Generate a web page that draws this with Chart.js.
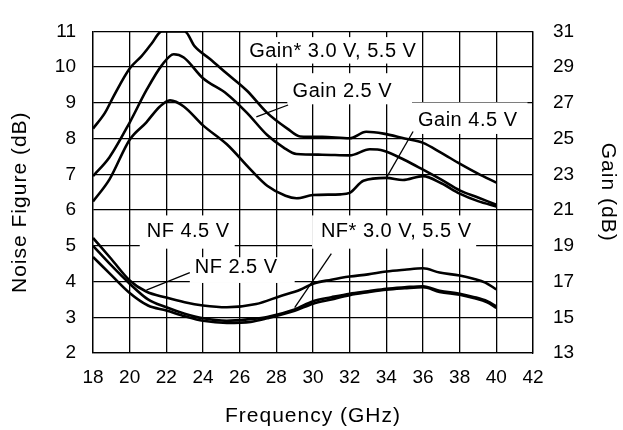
<!DOCTYPE html>
<html>
<head>
<meta charset="utf-8">
<script src="https://cdn.jsdelivr.net/npm/chart.js@4"></script>
<style>
  html, body { margin: 0; padding: 0; background: #fff; }
  #wrap { width: 623px; height: 430px; }
</style>
</head>
<body>
<div id="wrap"><canvas id="chart"></canvas></div>
<script>
// tick labels
const freqTicks = [18, 20, 22, 24, 26, 28, 30, 32, 34, 36, 38, 40, 42];
const nfTicks = [2, 3, 4, 5, 6, 7, 8, 9, 10, 11];
const gainTicks = [13, 15, 17, 19, 21, 23, 25, 27, 29, 31];

// Gain curves (dB, right axis)
const gainStarFreq = [18, 18.65, 19.1, 20, 20.65, 21.2, 21.75, 23, 23.55, 24.4, 25.3, 26.4, 27.5, 28.6, 29.3, 30.5, 32, 32.9, 33.85, 35, 36, 37, 38, 39, 40];
const gainStar     = [25.56, 26.44, 27.32, 28.92, 29.62, 30.32, 31, 31, 30.16, 29.44, 28.64, 27.68, 26.44, 25.56, 25.12, 25.1, 25.02, 25.38, 25.28, 25.0, 24.76, 24.2, 23.6, 23.04, 22.54];

const gain25Freq = [18, 18.9, 20, 20.9, 21.75, 22.4, 22.95, 24, 25.3, 26.4, 27.5, 28.4, 29.1, 30.5, 32, 33.1, 33.85, 35, 36, 37, 38, 39, 40];
const gain25     = [22.9, 23.96, 25.9, 27.68, 29.1, 29.72, 29.54, 28.38, 27.5, 26.44, 25.2, 24.5, 24.14, 24.1, 24.06, 24.4, 24.32, 23.8, 23.26, 22.7, 22.1, 21.7, 21.3];

const gain45Freq = [18, 18.9, 20, 20.9, 21.65, 22.2, 22.95, 24, 25.3, 26.6, 27.5, 28.5, 29.1, 30, 31.5, 32, 32.75, 34, 34.9, 36, 37, 38, 39, 40];
const gain45     = [21.48, 22.72, 24.94, 25.9, 26.8, 27.14, 26.8, 25.74, 24.68, 23.26, 22.36, 21.8, 21.66, 21.84, 21.88, 21.96, 22.64, 22.8, 22.68, 22.9, 22.5, 21.92, 21.5, 21.2];

// Noise figure curves (dB, left axis)
const nfFreq = [18, 19, 20, 20.9, 22, 23, 24, 25.3, 26.9, 28.2, 29.3, 30, 31, 32, 33, 34, 35, 36, 36.9, 38, 38.75, 39.4, 40];
const nf45   = [5.22, 4.63, 4.03, 3.72, 3.55, 3.42, 3.33, 3.28, 3.37, 3.59, 3.77, 3.94, 4.05, 4.14, 4.2, 4.28, 4.33, 4.37, 4.25, 4.17, 4.08, 3.97, 3.78];

const nfLowFreq = [18, 19, 20, 21, 22, 23, 24, 25.3, 26.6, 27.5, 29, 30, 31, 32, 33, 34, 35, 36, 36.9, 38, 38.75, 39.5, 40];
const nf25      = [5.0, 4.45, 3.94, 3.5, 3.28, 3.1, 2.97, 2.9, 2.95, 3.01, 3.22, 3.45, 3.56, 3.66, 3.73, 3.8, 3.84, 3.87, 3.74, 3.66, 3.57, 3.45, 3.3];
const nfStar    = [4.69, 4.18, 3.68, 3.33, 3.19, 3.03, 2.9, 2.84, 2.87, 2.97, 3.18, 3.38, 3.5, 3.62, 3.7, 3.77, 3.81, 3.84, 3.71, 3.63, 3.54, 3.42, 3.26];

function pts(xs, ys) { return xs.map((x, i) => ({x: x, y: ys[i]})); }

function curve(label, xs, ys, axis) {
  return {
    label: label,
    data: pts(xs, ys),
    yAxisID: axis,
    borderColor: '#000',
    borderWidth: 2.6,
    pointRadius: 0,
    fill: false,
    cubicInterpolationMode: 'monotone'
  };
}

// label boxes, text and leader lines, in (GHz, NF dB) units
const notes = [
  {text: 'Gain* 3.0 V, 5.5 V', box: [26.2, 35.8, 10.84, 10.1], at: [31.08, 10.44]},
  {text: 'Gain 2.5 V', box: [28.6, 35.4, 9.83, 8.96], at: [31.6, 9.31], lead: [[28.64, 8.94], [26.91, 8.61]]},
  {text: 'Gain 4.5 V', box: [35.4, 41.7, 9.01, 8.13], at: [38.44, 8.52], lead: [[35.46, 8.2], [34.0, 6.9]]},
  {text: 'NF 4.5 V', box: [20.55, 25.73, 5.85, 4.92], at: [23.19, 5.39]},
  {text: 'NF 2.5 V', box: [23.28, 29.0, 4.68, 3.96], at: [25.81, 4.4], lead: [[23.28, 4.25], [20.91, 3.76]]},
  {text: 'NF* 3.0 V, 5.5 V', box: [29.95, 38.9, 5.85, 4.92], at: [34.54, 5.39], lead: [[31.0, 4.78], [29.0, 3.27]]}
];

const FONT = '"Liberation Sans", Arial, Helvetica, sans-serif';

const notePlugin = {
  id: 'notes',
  beforeDatasetsDraw(chart) {
    const ctx = chart.ctx, sx = chart.scales.x, sy = chart.scales.y;
    ctx.save();
    ctx.fillStyle = '#fff';
    notes.forEach(n => {
      const x1 = sx.getPixelForValue(n.box[0]), x2 = sx.getPixelForValue(n.box[1]);
      const y1 = sy.getPixelForValue(n.box[2]), y2 = sy.getPixelForValue(n.box[3]);
      ctx.fillRect(x1, y1, x2 - x1, y2 - y1);
    });
    ctx.restore();
  },
  afterDatasetsDraw(chart) {
    const ctx = chart.ctx, sx = chart.scales.x, sy = chart.scales.y;
    ctx.save();
    ctx.fillStyle = '#000';
    ctx.strokeStyle = '#000';
    ctx.lineWidth = 1.3;
    ctx.font = '20px ' + FONT;
    ctx.letterSpacing = '0.5px';
    ctx.textAlign = 'center';
    ctx.textBaseline = 'middle';
    notes.forEach(n => {
      ctx.fillText(n.text, sx.getPixelForValue(n.at[0]), sy.getPixelForValue(n.at[1]));
      if (n.lead) {
        ctx.beginPath();
        ctx.moveTo(sx.getPixelForValue(n.lead[0][0]), sy.getPixelForValue(n.lead[0][1]));
        ctx.lineTo(sx.getPixelForValue(n.lead[1][0]), sy.getPixelForValue(n.lead[1][1]));
        ctx.stroke();
      }
    });
    ctx.restore();
  },
  afterDraw(chart) {
    // axis titles
    const ctx = chart.ctx, a = chart.chartArea;
    ctx.save();
    ctx.fillStyle = '#000';
    ctx.font = '21px ' + FONT;
    ctx.letterSpacing = '1px';
    ctx.textAlign = 'center';
    ctx.textBaseline = 'middle';
    ctx.fillText('Frequency (GHz)', (a.left + a.right) / 2, a.bottom + 63);

    ctx.save();
    ctx.translate(20, (a.top + a.bottom) / 2 + 10);
    ctx.rotate(-Math.PI / 2);
    ctx.fillText('Noise Figure (dB)', 0, 0);
    ctx.restore();

    ctx.save();
    ctx.translate(a.right + 75, (a.top + a.bottom) / 2);
    ctx.rotate(Math.PI / 2);
    ctx.fillText('Gain (dB)', 0, 0);
    ctx.restore();
    ctx.restore();
  }
};

const tickFont = {family: FONT, size: 19};

const myChart = new Chart('chart', {
  type: 'line',
  data: {
    datasets: [
      curve('Gain* 3.0 V, 5.5 V', gainStarFreq, gainStar, 'y2'),
      curve('Gain 2.5 V', gain25Freq, gain25, 'y2'),
      curve('Gain 4.5 V', gain45Freq, gain45, 'y2'),
      curve('NF 4.5 V', nfFreq, nf45, 'y'),
      curve('NF 2.5 V', nfLowFreq, nf25, 'y'),
      curve('NF* 3.0 V, 5.5 V', nfLowFreq, nfStar, 'y')
    ]
  },
  options: {
    responsive: true,
    maintainAspectRatio: false,
    animation: false,
    layout: {padding: {top: 14, left: 0, right: 0, bottom: 0}},
    plugins: {legend: {display: false}, tooltip: {enabled: false}},
    scales: {
      x: {
        type: 'linear',
        min: 18, max: 42,
        afterBuildTicks: s => { s.ticks = freqTicks.map(v => ({value: v})); },
        afterFit: s => { s.height = 77; },
        grid: {color: '#000', lineWidth: 1.3, drawTicks: false},
        border: {color: '#000', width: 1.3},
        ticks: {color: '#000', font: tickFont, padding: 13, maxRotation: 0}
      },
      y: {
        position: 'left',
        min: 2, max: 11,
        afterBuildTicks: s => { s.ticks = nfTicks.map(v => ({value: v})); },
        afterFit: s => { s.width = 93; },
        grid: {color: '#000', lineWidth: 1.3, drawTicks: false},
        border: {color: '#000', width: 1.3},
        ticks: {color: '#000', font: tickFont, padding: 17}
      },
      y2: {
        position: 'right',
        min: 13, max: 31,
        afterBuildTicks: s => { s.ticks = gainTicks.map(v => ({value: v})); },
        afterFit: s => { s.width = 90; },
        grid: {drawOnChartArea: false, drawTicks: false},
        border: {color: '#000', width: 1.3},
        ticks: {color: '#000', font: tickFont, padding: 20}
      }
    }
  },
  plugins: [notePlugin]
});
</script>
</body>
</html>
